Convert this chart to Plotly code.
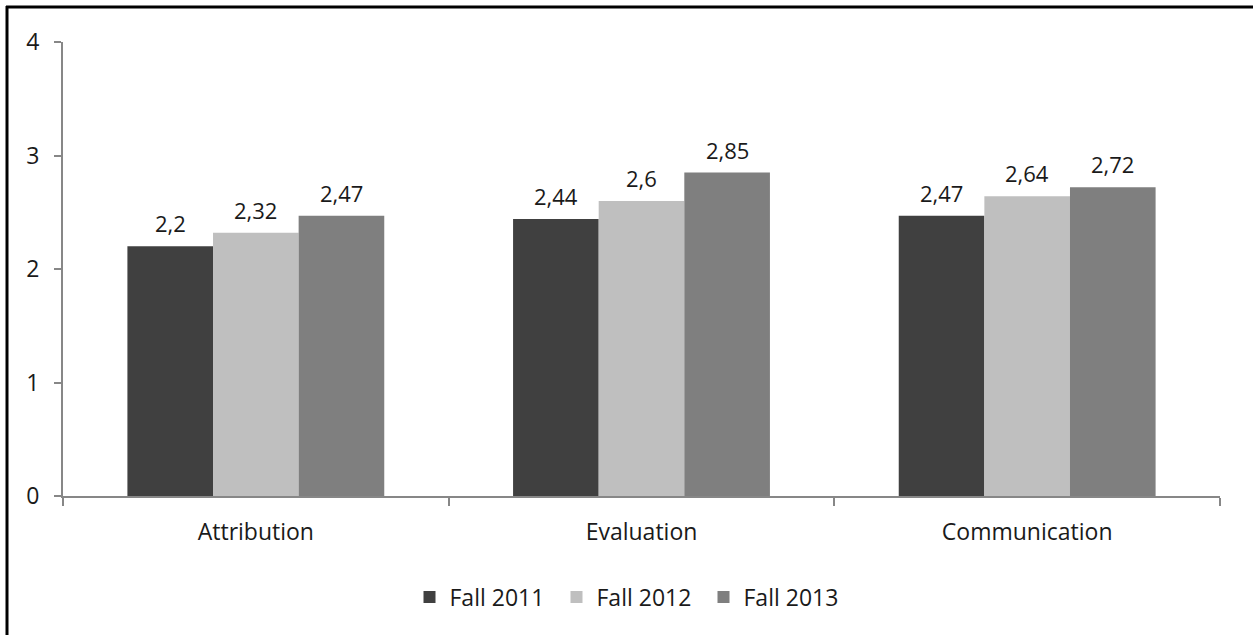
import plotly.graph_objects as go

categories = ["Attribution", "Evaluation", "Communication"]
series_names = ["Fall 2011", "Fall 2012", "Fall 2013"]
fall_2011 = [2.2, 2.44, 2.47]
fall_2012 = [2.32, 2.6, 2.64]
fall_2013 = [2.47, 2.85, 2.72]
colors = ["#404040", "#bfbfbf", "#7f7f7f"]

series = [fall_2011, fall_2012, fall_2013]
FONT = "Open Sans"
FS = 23
TXT = "#1a1a1a"

fig = go.Figure()
for name, vals, col in zip(series_names, series, colors):
    fig.add_trace(go.Bar(x=categories, y=vals, name=name, marker=dict(color=col, line=dict(width=0))))

bargap = 0.334
bw = (1 - bargap) / len(series)
annotations = []
for j, vals in enumerate(series):
    for i, v in enumerate(vals):
        annotations.append(dict(
            x=i + (j - 1) * bw, y=v, xref="x", yref="y",
            text=str(v).replace(".", ","), showarrow=False,
            yanchor="bottom", yshift=6,
            font=dict(family=FONT, size=22, color=TXT)))

W, H = 1253, 635
L, R, T, B = 63, 33, 42, 139
pw, ph = W - L - R, H - T - B

def px_to_paper_x(px):
    return (px - L) / pw

def px_to_paper_y(py):
    return (H - B - py) / ph

shapes = [
    dict(type="line", xref="paper", yref="paper",
         x0=px_to_paper_x(6), x1=px_to_paper_x(1260), y0=px_to_paper_y(7), y1=px_to_paper_y(7),
         line=dict(color="black", width=3)),
    dict(type="line", xref="paper", yref="paper",
         x0=px_to_paper_x(7), x1=px_to_paper_x(7), y0=px_to_paper_y(6), y1=px_to_paper_y(640),
         line=dict(color="black", width=3)),
]

fig.update_layout(
    width=W, height=H,
    margin=dict(l=L, r=R, t=T, b=B, pad=0),
    barmode="group", bargap=bargap, bargroupgap=0,
    plot_bgcolor="white", paper_bgcolor="white",
    font=dict(family=FONT, size=FS, color=TXT),
    showlegend=True,
    legend=dict(orientation="h", x=px_to_paper_x(630), xanchor="center", y=px_to_paper_y(597), yanchor="middle",
                font=dict(family=FONT, size=FS, color=TXT), itemwidth=30,
                entrywidth=102, entrywidthmode="pixels",
                traceorder="normal"),
    annotations=annotations,
    shapes=shapes,
)
fig.update_xaxes(showline=True, linecolor="#878787", linewidth=2, ticks="outside", ticklen=8,
                 tickcolor="#878787", tickwidth=2, tickson="boundaries", showgrid=False,
                 ticklabelstandoff=14,
                 tickfont=dict(family=FONT, size=FS, color=TXT))
fig.update_yaxes(range=[0, 4], dtick=1, showline=True, linecolor="#878787", linewidth=2,
                 ticks="outside", ticklen=7, tickcolor="#878787", tickwidth=2, showgrid=False,
                 ticklabelstandoff=10,
                 zeroline=False, tickfont=dict(family=FONT, size=FS, color=TXT))

fig.write_html("out.html", config={"displayModeBar": False},
               post_script="document.body.style.margin='0';document.body.style.overflow='hidden';")
